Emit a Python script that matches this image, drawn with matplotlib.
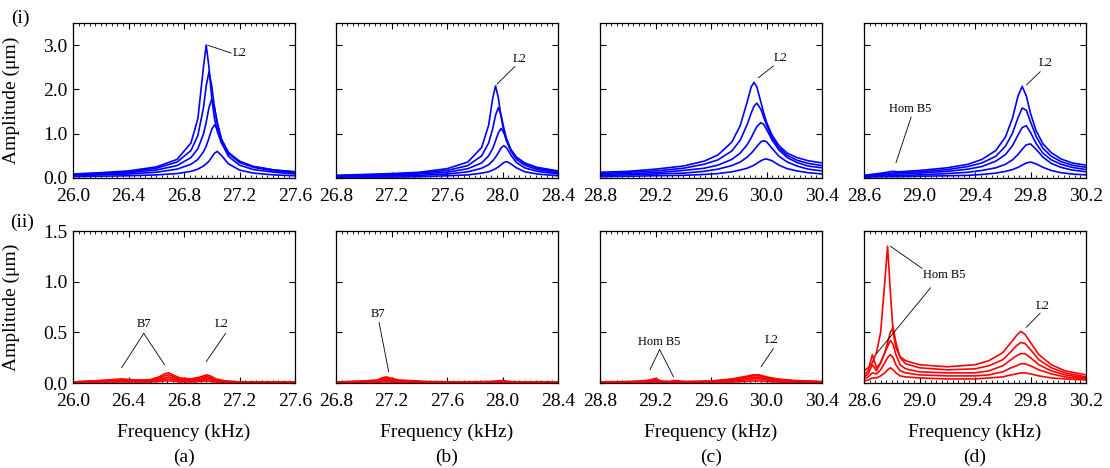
import matplotlib.pyplot as plt
from matplotlib.ticker import MultipleLocator, FormatStrFormatter

plt.rcParams['font.family'] = ['Liberation Serif', 'DejaVu Serif']

# ---- (i) top row, blue curves, 5 excitation levels each ----
f_top_a = [26.0, 26.2, 26.4, 26.6, 26.75, 26.85, 26.9, 26.94, 26.96, 26.98, 27.0,
           27.02, 27.04, 27.07, 27.12, 27.2, 27.3, 27.45, 27.6]
amp_top_a = [
    [0.09, 0.12, 0.16, 0.25, 0.42, 0.79, 1.34, 2.5, 3.0, 2.5, 1.8, 1.34, 1.05, 0.79, 0.55, 0.37, 0.26, 0.18, 0.14],
    [0.08, 0.11, 0.14, 0.22, 0.36, 0.62, 0.96, 1.58, 2.08, 2.4, 2.08, 1.58, 1.21, 0.87, 0.58, 0.38, 0.26, 0.18, 0.14],
    [0.07, 0.09, 0.12, 0.18, 0.28, 0.46, 0.66, 0.99, 1.26, 1.59, 1.78, 1.59, 1.26, 0.88, 0.56, 0.35, 0.24, 0.16, 0.12],
    [0.05, 0.07, 0.09, 0.13, 0.2, 0.31, 0.42, 0.59, 0.72, 0.9, 1.1, 1.2, 1.1, 0.8, 0.49, 0.29, 0.19, 0.13, 0.09],
    [0.03, 0.04, 0.05, 0.07, 0.1, 0.15, 0.2, 0.27, 0.32, 0.38, 0.47, 0.56, 0.6, 0.51, 0.32, 0.18, 0.11, 0.07, 0.05],
]

f_top_b = [26.8, 27.0, 27.2, 27.4, 27.6, 27.75, 27.85, 27.9, 27.93, 27.95, 27.97,
           27.99, 28.01, 28.03, 28.06, 28.1, 28.16, 28.25, 28.4]
amp_top_b = [
    [0.06, 0.08, 0.1, 0.13, 0.21, 0.36, 0.69, 1.19, 1.81, 2.08, 1.81, 1.37, 1.05, 0.83, 0.63, 0.47, 0.34, 0.24, 0.16],
    [0.05, 0.07, 0.08, 0.11, 0.17, 0.28, 0.5, 0.79, 1.12, 1.42, 1.59, 1.42, 1.12, 0.88, 0.65, 0.47, 0.33, 0.22, 0.15],
    [0.04, 0.05, 0.06, 0.09, 0.13, 0.21, 0.34, 0.5, 0.67, 0.84, 1.02, 1.12, 1.02, 0.84, 0.61, 0.42, 0.29, 0.19, 0.12],
    [0.03, 0.04, 0.05, 0.06, 0.09, 0.14, 0.22, 0.3, 0.39, 0.47, 0.57, 0.68, 0.73, 0.68, 0.52, 0.35, 0.23, 0.15, 0.09],
    [0.02, 0.02, 0.02, 0.03, 0.05, 0.07, 0.11, 0.14, 0.18, 0.21, 0.25, 0.3, 0.35, 0.37, 0.32, 0.23, 0.14, 0.09, 0.05],
]

f_top_c = [28.8, 29.0, 29.2, 29.4, 29.55, 29.65, 29.75, 29.81, 29.86, 29.89, 29.91,
           29.93, 29.96, 29.98, 30.0, 30.04, 30.09, 30.15, 30.22, 30.3, 30.4]
amp_top_c = [
    [0.13, 0.15, 0.2, 0.27, 0.38, 0.52, 0.81, 1.18, 1.71, 2.06, 2.16, 2.06, 1.71, 1.47, 1.26, 0.97, 0.73, 0.56, 0.46, 0.39, 0.34],
    [0.1, 0.13, 0.16, 0.22, 0.31, 0.41, 0.61, 0.85, 1.2, 1.47, 1.62, 1.69, 1.55, 1.37, 1.2, 0.91, 0.68, 0.51, 0.4, 0.33, 0.28],
    [0.08, 0.1, 0.12, 0.17, 0.22, 0.29, 0.42, 0.56, 0.75, 0.91, 1.04, 1.16, 1.25, 1.21, 1.1, 0.86, 0.63, 0.46, 0.35, 0.27, 0.23],
    [0.06, 0.07, 0.09, 0.11, 0.15, 0.2, 0.28, 0.36, 0.47, 0.56, 0.63, 0.71, 0.82, 0.84, 0.82, 0.67, 0.49, 0.36, 0.27, 0.2, 0.16],
    [0.03, 0.04, 0.05, 0.06, 0.08, 0.1, 0.14, 0.18, 0.22, 0.26, 0.29, 0.33, 0.39, 0.42, 0.43, 0.39, 0.29, 0.21, 0.16, 0.12, 0.09],
]

f_top_d = [28.6, 28.75, 28.8, 28.85, 29.0, 29.2, 29.35, 29.45, 29.55, 29.62, 29.67,
           29.71, 29.74, 29.77, 29.8, 29.84, 29.89, 29.95, 30.02, 30.1, 30.2]
amp_top_d = [
    [0.06, 0.12, 0.15, 0.14, 0.17, 0.23, 0.31, 0.42, 0.62, 0.93, 1.35, 1.85, 2.07, 1.85, 1.46, 1.07, 0.77, 0.57, 0.43, 0.34, 0.29],
    [0.05, 0.1, 0.11, 0.12, 0.14, 0.19, 0.26, 0.34, 0.49, 0.72, 1.01, 1.36, 1.58, 1.53, 1.27, 0.94, 0.67, 0.49, 0.37, 0.29, 0.24],
    [0.04, 0.08, 0.09, 0.09, 0.11, 0.15, 0.2, 0.26, 0.38, 0.53, 0.73, 0.97, 1.14, 1.18, 1.03, 0.78, 0.56, 0.41, 0.31, 0.24, 0.19],
    [0.03, 0.06, 0.06, 0.06, 0.07, 0.1, 0.13, 0.17, 0.23, 0.31, 0.41, 0.53, 0.65, 0.75, 0.77, 0.65, 0.47, 0.33, 0.24, 0.18, 0.14],
    [0.02, 0.03, 0.03, 0.03, 0.04, 0.05, 0.06, 0.08, 0.11, 0.15, 0.19, 0.24, 0.29, 0.34, 0.36, 0.32, 0.24, 0.17, 0.12, 0.09, 0.07],
]

# ---- (ii) bottom row, red curves ----
f_bot_a = [26.0, 26.15, 26.25, 26.35, 26.45, 26.55, 26.62, 26.66, 26.69, 26.72,
           26.77, 26.85, 26.92, 26.96, 26.99, 27.03, 27.1, 27.2, 27.4, 27.6]
amp_bot_a = [
    [0.01, 0.02, 0.03, 0.04, 0.03, 0.03, 0.06, 0.09, 0.1, 0.08, 0.05, 0.04, 0.06, 0.08, 0.07, 0.04, 0.02, 0.01, 0.01, 0.01],
    [0.01, 0.02, 0.025, 0.03, 0.025, 0.025, 0.05, 0.07, 0.08, 0.065, 0.04, 0.03, 0.05, 0.065, 0.055, 0.03, 0.015, 0.01, 0.01, 0.01],
    [0.01, 0.015, 0.02, 0.025, 0.02, 0.02, 0.035, 0.05, 0.06, 0.05, 0.03, 0.025, 0.035, 0.05, 0.04, 0.025, 0.015, 0.01, 0.01, 0.01],
    [0.005, 0.01, 0.015, 0.02, 0.015, 0.015, 0.025, 0.035, 0.04, 0.035, 0.02, 0.02, 0.025, 0.035, 0.03, 0.02, 0.01, 0.005, 0.005, 0.005],
    [0.005, 0.005, 0.01, 0.01, 0.01, 0.01, 0.015, 0.02, 0.02, 0.02, 0.01, 0.01, 0.015, 0.02, 0.015, 0.01, 0.005, 0.005, 0.005, 0.005],
]

f_bot_b = [26.8, 27.0, 27.1, 27.13, 27.16, 27.19, 27.25, 27.45, 27.7, 27.9, 27.97,
           28.0, 28.04, 28.15, 28.4]
amp_bot_b = [
    [0.01, 0.02, 0.03, 0.05, 0.06, 0.05, 0.03, 0.015, 0.01, 0.015, 0.02, 0.025, 0.015, 0.01, 0.01],
    [0.01, 0.015, 0.025, 0.04, 0.05, 0.04, 0.025, 0.01, 0.01, 0.01, 0.015, 0.02, 0.01, 0.01, 0.01],
    [0.005, 0.01, 0.02, 0.03, 0.035, 0.03, 0.02, 0.01, 0.005, 0.01, 0.01, 0.015, 0.01, 0.005, 0.005],
    [0.005, 0.01, 0.01, 0.02, 0.025, 0.02, 0.01, 0.005, 0.005, 0.005, 0.01, 0.01, 0.005, 0.005, 0.005],
    [0.005, 0.005, 0.005, 0.01, 0.01, 0.01, 0.005, 0.005, 0.005, 0.005, 0.005, 0.005, 0.005, 0.005, 0.005],
]

f_bot_c = [28.8, 29.0, 29.1, 29.16, 29.2, 29.24, 29.3, 29.34, 29.4, 29.6, 29.75,
           29.85, 29.9, 29.95, 30.0, 30.08, 30.2, 30.4]
amp_bot_c = [
    [0.01, 0.015, 0.02, 0.03, 0.045, 0.02, 0.015, 0.025, 0.015, 0.02, 0.04, 0.065, 0.08, 0.08, 0.06, 0.04, 0.025, 0.015],
    [0.01, 0.01, 0.015, 0.025, 0.035, 0.015, 0.01, 0.02, 0.01, 0.015, 0.035, 0.055, 0.07, 0.07, 0.05, 0.035, 0.02, 0.01],
    [0.005, 0.01, 0.01, 0.02, 0.025, 0.01, 0.01, 0.015, 0.01, 0.01, 0.025, 0.045, 0.055, 0.055, 0.04, 0.025, 0.015, 0.01],
    [0.005, 0.005, 0.01, 0.01, 0.015, 0.01, 0.005, 0.01, 0.005, 0.01, 0.02, 0.03, 0.04, 0.04, 0.03, 0.02, 0.01, 0.005],
    [0.005, 0.005, 0.005, 0.005, 0.01, 0.005, 0.005, 0.005, 0.005, 0.005, 0.01, 0.015, 0.02, 0.02, 0.015, 0.01, 0.005, 0.005],
]

f_bot_d = [28.6, 28.63, 28.66, 28.69, 28.72, 28.75, 28.77, 28.79, 28.81, 28.83, 28.86,
           28.9, 29.0, 29.2, 29.4, 29.5, 29.6, 29.66, 29.7, 29.73, 29.76, 29.8,
           29.86, 29.95, 30.05, 30.2]
amp_bot_d = [
    [0.12, 0.15, 0.2, 0.3, 0.5, 1.0, 1.35, 0.9, 0.5, 0.35, 0.26, 0.22, 0.18, 0.16, 0.18, 0.22, 0.3, 0.4, 0.47, 0.51, 0.48, 0.4, 0.28, 0.18, 0.12, 0.08],
    [0.08, 0.12, 0.28, 0.15, 0.2, 0.3, 0.4, 0.5, 0.55, 0.4, 0.25, 0.19, 0.15, 0.13, 0.14, 0.17, 0.23, 0.31, 0.37, 0.4, 0.39, 0.33, 0.23, 0.15, 0.1, 0.06],
    [0.06, 0.09, 0.18, 0.12, 0.2, 0.3, 0.36, 0.42, 0.38, 0.28, 0.18, 0.14, 0.11, 0.1, 0.1, 0.12, 0.17, 0.23, 0.27, 0.29, 0.29, 0.25, 0.18, 0.12, 0.08, 0.05],
    [0.04, 0.06, 0.1, 0.09, 0.13, 0.2, 0.25, 0.28, 0.25, 0.18, 0.12, 0.1, 0.08, 0.07, 0.07, 0.08, 0.11, 0.15, 0.17, 0.19, 0.19, 0.17, 0.13, 0.09, 0.06, 0.04],
    [0.02, 0.03, 0.05, 0.05, 0.07, 0.1, 0.13, 0.15, 0.13, 0.1, 0.07, 0.06, 0.05, 0.04, 0.04, 0.05, 0.06, 0.08, 0.09, 0.1, 0.1, 0.09, 0.07, 0.05, 0.04, 0.03],
]

xlims = [(26.0, 27.6), (26.8, 28.4), (28.8, 30.4), (28.6, 30.2)]
panel_tags = ['(a)', '(b)', '(c)', '(d)']
top_data = [(f_top_a, amp_top_a), (f_top_b, amp_top_b), (f_top_c, amp_top_c), (f_top_d, amp_top_d)]
bot_data = [(f_bot_a, amp_bot_a), (f_bot_b, amp_bot_b), (f_bot_c, amp_bot_c), (f_bot_d, amp_bot_d)]

# annotations: (text, text pos, [(line start, line end), ...])
top_notes = [
    [('L2', (27.2, 2.82), [((27.14, 2.82), (26.97, 3.0))])],
    [('L2', (28.12, 2.68), [((28.09, 2.52), (27.96, 2.12))])],
    [('L2', (30.1, 2.7), [((30.05, 2.53), (29.94, 2.26))])],
    [('L2', (29.91, 2.6), [((29.87, 2.4), (29.77, 2.1))]),
     ('Hom B5', (28.93, 1.55), [((28.94, 1.38), (28.83, 0.34))])],
]
bot_notes = [
    [('B7', (26.51, 0.58), [((26.51, 0.49), (26.35, 0.15)), ((26.51, 0.49), (26.66, 0.18))]),
     ('L2', (27.07, 0.58), [((27.1, 0.49), (26.96, 0.21))])],
    [('B7', (27.1, 0.68), [((27.11, 0.6), (27.18, 0.11))])],
    [('Hom B5', (29.23, 0.4), [((29.23, 0.33), (29.16, 0.13)), ((29.23, 0.33), (29.33, 0.06))]),
     ('L2', (30.04, 0.42), [((30.05, 0.34), (29.96, 0.16))])],
    [('Hom B5', (29.18, 1.07), [((29.02, 1.13), (28.79, 1.35)), ((29.08, 0.94), (28.69, 0.29))]),
     ('L2', (29.89, 0.76), [((29.87, 0.69), (29.77, 0.55))])],
]

W, H = 1110, 468
lefts = [73, 336, 600, 864]


def style(ax, xlim, ylim, ystep, show_y):
    ax.set_xlim(*xlim)
    ax.set_ylim(*ylim)
    # ticks start at the left edge of each panel (28.6, 29.0, ... in panel d)
    ax.xaxis.set_major_locator(MultipleLocator(0.4, offset=xlim[0]))
    ax.xaxis.set_minor_locator(MultipleLocator(0.04, offset=xlim[0]))
    ax.yaxis.set_major_locator(MultipleLocator(ystep))
    ax.xaxis.set_major_formatter(FormatStrFormatter('%.1f'))
    ax.yaxis.set_major_formatter(FormatStrFormatter('%.1f'))
    ax.tick_params(which='both', direction='in', top=True, right=True, labelsize=14)
    ax.tick_params(axis='x', pad=7)
    ax.tick_params(axis='y', pad=4, labelleft=show_y)
    ax.tick_params(which='major', length=4, width=0.8)
    ax.tick_params(which='minor', length=2, width=0.6)
    for s in ax.spines.values():
        s.set_linewidth(0.9)


def notes(ax, items):
    for txt, pos, lines in items:
        ax.text(pos[0], pos[1], txt, fontsize=9, ha='center', va='center')
        for a, b in lines:
            ax.annotate('', xy=b, xytext=a,
                        arrowprops=dict(arrowstyle='-', lw=0.6, color='black',
                                        shrinkA=0, shrinkB=0))


fig = plt.figure(figsize=(11.1, 4.68), dpi=100)

for i in range(4):
    ax = fig.add_axes([lefts[i] / W, 1 - 178 / H, 222 / W, 155 / H])
    f, amps = top_data[i]
    for a in amps:
        ax.plot(f, a, color='#0000ff', lw=1.2)
    style(ax, xlims[i], (0, 3.5), 1.0, i == 0)
    notes(ax, top_notes[i])
    if i == 0:
        ax.set_ylabel('Amplitude (\u03bcm)', fontsize=14)
        ax.yaxis.set_label_coords(-0.24, 0.5)

    ax2 = fig.add_axes([lefts[i] / W, 1 - 383 / H, 222 / W, 152 / H])
    f, amps = bot_data[i]
    for a in amps:
        ax2.plot(f, a, color='#ff0000', lw=1.2)
    style(ax2, xlims[i], (0, 1.5), 0.5, i == 0)
    notes(ax2, bot_notes[i])
    ax2.set_xlabel('Frequency (kHz)', fontsize=14)
    ax2.xaxis.set_label_coords(0.5, -0.27)
    if i == 0:
        ax2.set_ylabel('Amplitude (\u03bcm)', fontsize=14)
        ax2.yaxis.set_label_coords(-0.24, 0.5)

    fig.text((lefts[i] + 111) / W, 1 - 457 / H, panel_tags[i], fontsize=14,
             ha='center', va='center')

fig.text(20 / W, 1 - 18 / H, '(i)', fontsize=14, ha='center', va='center')
fig.text(22 / W, 1 - 222 / H, '(ii)', fontsize=14, ha='center', va='center')

fig.savefig('out.png', dpi=100)
